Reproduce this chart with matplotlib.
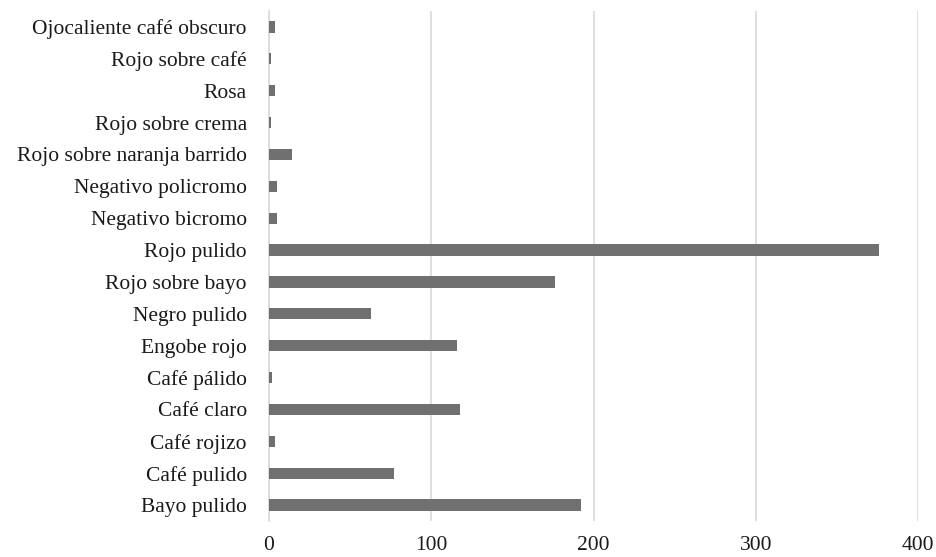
import matplotlib
matplotlib.use("Agg")
import matplotlib.pyplot as plt

# Categories listed bottom -> top, as drawn
categories = [
    "Bayo pulido", "Café pulido", "Café rojizo", "Café claro", "Café pálido",
    "Engobe rojo", "Negro pulido", "Rojo sobre bayo", "Rojo pulido",
    "Negativo bicromo", "Negativo policromo", "Rojo sobre naranja barrido",
    "Rojo sobre crema", "Rosa", "Rojo sobre café", "Ojocaliente café obscuro",
]
counts = [192, 77, 4, 118, 2, 116, 63, 176, 376, 5, 5, 14, 1, 4, 1, 4]
x_ticks = [0, 100, 200, 300, 400]

plt.rcParams["font.family"] = ["Liberation Serif", "DejaVu Serif"]

fig = plt.figure(figsize=(9.36, 5.57), dpi=100)
ax = fig.add_axes([269 / 936, 1 - 521 / 557, (918 - 269) / 936, 510 / 557])

ax.barh(range(len(categories)), counts, height=0.35, color="#707070", zorder=3)

ax.set_xlim(0, 400)
ax.set_ylim(-0.5, len(categories) - 0.5)
ax.set_xticks(x_ticks)
ax.set_yticks(range(len(categories)))
ax.set_yticklabels(categories)
ax.tick_params(axis="both", length=0, labelsize=15.5, colors="#1a1a1a")
ax.tick_params(axis="y", pad=16)
ax.tick_params(axis="x", pad=11)

ax.grid(axis="x", color="#d9d9d9", linewidth=1.2, zorder=0)
for side in ["top", "right", "bottom"]:
    ax.spines[side].set_visible(False)
ax.spines["left"].set_color("#d9d9d9")
ax.spines["left"].set_linewidth(1.2)

fig.savefig("out.png", dpi=100)
